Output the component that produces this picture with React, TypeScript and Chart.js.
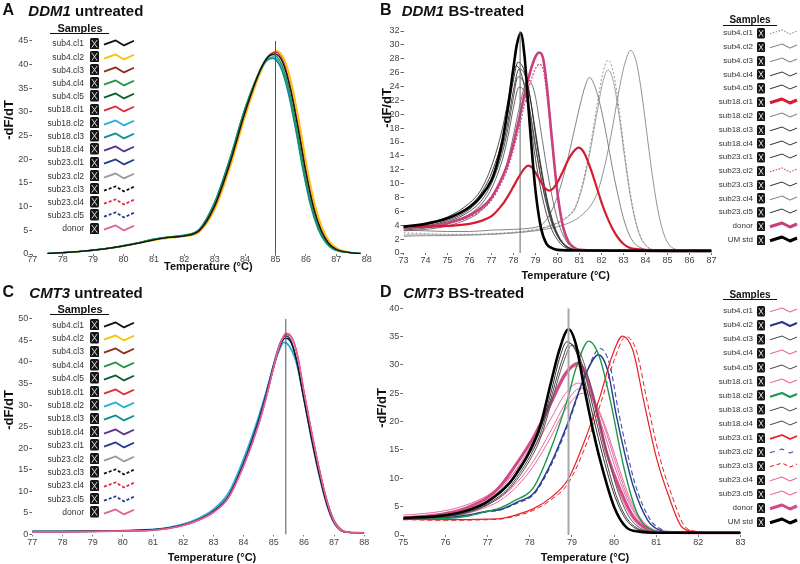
import React, { useEffect, useRef } from "react";
import { Chart, registerables } from "chart.js";

Chart.register(...registerables);

type Pt = [number, number];

// ================= DATA =================
// ---- Panel A: DDM1 untreated ----
const aTempRange = [77, 88];
const aValueRange = [0, 45];
const aValueStep = 5;
const aMarkerTemp = 85.0;
const aSub4cl1: Pt[] = [[77.5,0.1],[78,0.3],[78.5,0.5],[79,0.8],[79.5,1.2],[80,1.7],[80.5,2.3],[81,3.0],[81.5,3.5],[82,3.8],[82.5,5.0],[83,10.2],[83.5,19.2],[84,30.0],[84.5,38.8],[84.75,41.5],[84.97,42.2],[85.25,40.2],[85.5,34.5],[85.75,26.3],[86,17.2],[86.25,9.8],[86.5,5.0],[86.75,2.2],[87,1.0],[87.5,0.25],[87.8,0.1]];
const aSub4cl2: Pt[] = [[77.5,0.1],[78,0.3],[78.5,0.5],[79,0.8],[79.5,1.2],[80,1.7],[80.5,2.3],[81,2.9],[81.5,3.4],[82,3.7],[82.5,4.7],[83,9.4],[83.5,18.2],[84,29.0],[84.5,38.2],[84.75,41.4],[85.05,42.8],[85.3,40.9],[85.55,35.3],[85.8,27.0],[86.05,17.8],[86.3,10.3],[86.55,5.3],[86.8,2.4],[87.05,1.1],[87.5,0.3],[87.8,0.1]];
const aSub4cl4: Pt[] = [[77.5,0.1],[78,0.3],[78.5,0.5],[79,0.8],[79.5,1.2],[80,1.7],[80.5,2.4],[81,3.1],[81.5,3.6],[82,3.9],[82.5,5.2],[83,10.7],[83.5,19.8],[84,30.6],[84.5,39.0],[84.75,41.6],[84.93,42.0],[85.2,40.0],[85.45,34.6],[85.7,26.5],[85.95,17.4],[86.2,10.0],[86.45,5.1],[86.7,2.3],[86.95,1.0],[87.5,0.25],[87.8,0.1]];
const aSub18cl3: Pt[] = [[77.5,0.1],[78,0.3],[78.5,0.5],[79,0.8],[79.5,1.2],[80,1.7],[80.5,2.4],[81,3.1],[81.5,3.6],[82,3.9],[82.5,5.2],[83,10.9],[83.5,20.1],[84,30.8],[84.5,38.8],[84.7,40.7],[84.9,41.3],[85.15,39.6],[85.4,34.5],[85.65,26.7],[85.9,17.8],[86.15,10.3],[86.4,5.3],[86.65,2.4],[86.9,1.0],[87.5,0.25],[87.8,0.1]];
const aSub18cl1: Pt[] = [[77.5,0.1],[78,0.3],[78.5,0.5],[79,0.8],[79.5,1.2],[80,1.7],[80.5,2.3],[81,3.0],[81.5,3.5],[82,3.8],[82.5,4.9],[83,10.0],[83.5,19.0],[84,29.8],[84.5,38.7],[84.75,41.7],[85,42.6],[85.25,40.7],[85.5,35.0],[85.75,26.8],[86,17.6],[86.25,10.1],[86.5,5.1],[86.75,2.3],[87,1.0],[87.5,0.25],[87.8,0.1]];
const aSub18cl2: Pt[] = [[77.5,0.1],[78,0.3],[78.5,0.5],[79,0.8],[79.5,1.2],[80,1.8],[80.5,2.4],[81,3.1],[81.5,3.6],[82,4.0],[82.5,5.3],[83,11.0],[83.5,20.2],[84,30.7],[84.5,38.6],[84.72,40.9],[84.92,41.6],[85.15,40.0],[85.4,35.0],[85.65,27.2],[85.9,18.2],[86.15,10.6],[86.4,5.5],[86.65,2.5],[86.9,1.1],[87.5,0.25],[87.8,0.1]];

// ---- Panel B: DDM1 BS-treated ----
const bTempRange = [73, 87];
const bValueRange = [0, 32];
const bValueStep = 2;
const bMarkerTemp = 78.3;
const bUmStd: Pt[] = [[73,3.8],[74,4.2],[75,5.0],[76,6.6],[76.5,8.1],[77,10.5],[77.25,12.8],[77.5,16.2],[77.75,21.0],[78,26.8],[78.15,30.0],[78.33,31.7],[78.5,28.4],[78.75,18.0],[79,9.0],[79.25,3.6],[79.5,1.3],[79.75,0.7],[80,0.45],[81,0.35],[87,0.3]];
const bSub18cl1: Pt[] = [[73,3.8],[74,3.8],[75,3.9],[76,4.2],[76.5,4.6],[77,5.3],[77.5,7.0],[77.75,8.2],[78,9.6],[78.25,11.0],[78.5,12.2],[78.67,12.6],[78.85,12.3],[79,11.6],[79.25,10.2],[79.45,9.3],[79.63,9.0],[79.8,9.3],[80,10.2],[80.25,11.8],[80.5,13.5],[80.75,14.7],[80.95,15.2],[81.2,14.5],[81.5,12.2],[81.75,9.8],[82,7.3],[82.25,5.2],[82.5,3.5],[82.75,2.2],[83,1.3],[83.25,0.8],[83.5,0.6],[84,0.45],[85,0.4],[87,0.4]];
const bDonor: Pt[] = [[73,3.7],[74,3.8],[75,4.3],[76,5.4],[76.5,6.4],[77,8.0],[77.5,11.0],[77.75,13.0],[78,15.8],[78.25,19.2],[78.5,22.8],[78.75,26.0],[79,28.3],[79.17,28.9],[79.35,28.0],[79.5,24.5],[79.75,16.3],[80,8.6],[80.25,3.8],[80.5,1.6],[80.75,0.8],[81,0.45],[82,0.35],[87,0.3]];
const bSub23cl2: Pt[] = [[73,3.6],[74,3.7],[75,4.2],[76,5.2],[76.5,6.1],[77,7.6],[77.5,10.4],[77.75,12.3],[78,14.9],[78.25,18.0],[78.5,21.4],[78.75,24.4],[79,26.6],[79.17,27.2],[79.35,26.4],[79.5,23.3],[79.75,16.0],[80,8.8],[80.25,4.0],[80.5,1.7],[80.75,0.8],[81,0.45],[82,0.35],[87,0.3]];
const bSub4cl4: Pt[] = [[73,3.7],[74,4.1],[75,5.0],[76,6.8],[76.5,8.5],[77,11.5],[77.5,16.5],[77.75,20.5],[78,25.0],[78.2,27.5],[78.5,26.2],[78.75,22.5],[79,17.0],[79.25,12.0],[79.5,7.8],[79.75,4.6],[80,2.6],[80.25,1.4],[80.5,0.8],[80.75,0.5],[81,0.4],[87,0.3]];
const bSub4cl5: Pt[] = [[73,3.6],[74,3.9],[75,4.7],[76,6.3],[76.5,7.9],[77,10.6],[77.5,15.2],[77.75,19.0],[78,23.5],[78.25,26.5],[78.5,25.8],[78.75,22.5],[79,17.5],[79.25,12.5],[79.5,8.2],[79.75,5.0],[80,2.8],[80.25,1.5],[80.5,0.8],[80.75,0.5],[81,0.4],[87,0.3]];
const bSub18cl3: Pt[] = [[73,3.5],[74,3.8],[75,4.5],[76,6.0],[76.5,7.4],[77,10.0],[77.5,14.5],[77.75,18.0],[78,22.5],[78.2,25.4],[78.5,24.3],[78.75,20.5],[79,15.5],[79.25,10.8],[79.5,7.0],[79.75,4.2],[80,2.4],[80.25,1.3],[80.5,0.7],[81,0.4],[87,0.3]];
const bSub18cl4: Pt[] = [[73,3.3],[74,3.6],[75,4.2],[76,5.6],[76.5,6.9],[77,9.3],[77.5,13.5],[77.75,16.8],[78,21.0],[78.25,23.9],[78.5,23.2],[78.75,19.8],[79,15.2],[79.25,10.8],[79.5,7.2],[79.75,4.4],[80,2.5],[80.25,1.3],[80.5,0.7],[81,0.4],[87,0.3]];
const bSub23cl1: Pt[] = [[73,3.2],[74,3.4],[75,3.9],[76,5.0],[76.5,6.0],[77,7.8],[77.5,11.0],[77.75,13.5],[78,17.0],[78.25,20.8],[78.5,24.0],[78.65,25.0],[78.85,24.2],[79,22.5],[79.25,17.5],[79.5,12.5],[79.75,8.2],[80,4.8],[80.25,2.6],[80.5,1.3],[80.75,0.7],[81,0.5],[87,0.3]];
const bSub23cl3: Pt[] = [[73,3.8],[74,4.2],[75,5.2],[76,7.2],[76.5,9.0],[77,12.5],[77.5,18.0],[77.75,22.0],[78,26.0],[78.12,27.0],[78.3,26.3],[78.5,24.0],[78.75,19.0],[79,13.5],[79.25,9.0],[79.5,5.6],[79.75,3.3],[80,1.9],[80.25,1.0],[80.5,0.6],[81,0.4],[87,0.3]];
const bSub4cl2: Pt[] = [[73,3.3],[74,3.2],[75,3.1],[76,3.1],[77,3.3],[78,3.4],[78.5,3.5],[79,3.7],[79.25,4.0],[79.5,4.8],[79.75,6.2],[80,8.2],[80.25,10.8],[80.5,14.0],[80.75,17.5],[81,21.0],[81.25,24.0],[81.45,25.3],[81.7,24.0],[82,20.5],[82.25,16.5],[82.5,12.2],[82.75,8.3],[83,5.0],[83.25,2.7],[83.5,1.4],[83.75,0.8],[84,0.5],[84.5,0.35],[85,0.3],[87,0.3]];
const bSub4cl1: Pt[] = [[73,2.9],[74,2.8],[75,2.7],[76,2.7],[77,2.8],[78,3.0],[79,3.4],[79.5,3.8],[80,4.4],[80.5,5.4],[80.8,6.6],[81.05,8.9],[81.3,12.3],[81.55,16.5],[81.8,21.3],[82.05,25.8],[82.3,27.8],[82.55,25.9],[82.8,20.8],[83.05,14.5],[83.3,8.8],[83.55,4.7],[83.8,2.2],[84.05,1.0],[84.3,0.5],[85,0.3],[87,0.3]];
const bSub4cl3: Pt[] = [[73,2.6],[74,2.6],[75,2.6],[76,2.6],[77,2.7],[78,2.9],[79,3.3],[79.5,3.7],[80,4.3],[80.5,5.3],[80.8,6.4],[81.05,8.6],[81.3,11.8],[81.55,15.8],[81.8,20.3],[82.05,24.5],[82.3,26.4],[82.55,24.6],[82.8,19.8],[83.05,13.8],[83.3,8.4],[83.55,4.5],[83.8,2.1],[84.05,1.0],[84.3,0.5],[85,0.3],[87,0.3]];
const bSub23cl4: Pt[] = [[73,2.4],[74,2.5],[75,2.5],[76,2.6],[77,2.7],[78,2.9],[79,3.2],[80,3.8],[80.5,4.3],[81,5.2],[81.5,6.8],[81.8,8.6],[82.05,11.3],[82.3,14.8],[82.55,19.0],[82.8,23.5],[83.05,27.2],[83.33,29.2],[83.6,27.3],[83.85,22.5],[84.1,16.3],[84.35,10.3],[84.6,5.6],[84.85,2.6],[85.1,1.1],[85.4,0.5],[86,0.3],[87,0.3]];

// ---- Panel C: CMT3 untreated ----
const cTempRange = [77, 88];
const cValueRange = [0, 50];
const cValueStep = 5;
const cMarkerTemp = 85.4;
const cSub4cl1: Pt[] = [[77,0.7],[78,0.7],[79,0.75],[80,0.85],[81,1.1],[81.5,1.5],[82,2.2],[82.5,3.4],[83,5.3],[83.5,8.8],[84,16.3],[84.5,26.0],[84.75,32.0],[85,38.8],[85.2,43.5],[85.38,45.5],[85.55,44.8],[85.75,40.5],[86,31.5],[86.25,22.5],[86.5,14.3],[86.75,7.4],[87,2.8],[87.25,0.9],[87.5,0.5],[88,0.4]];
const cSub18cl2: Pt[] = [[77,0.7],[78,0.7],[79,0.75],[80,0.9],[81,1.2],[81.5,1.6],[82,2.4],[82.5,3.7],[83,5.8],[83.5,9.6],[84,17.5],[84.5,27.3],[84.75,33.0],[85,39.2],[85.2,43.0],[85.33,44.5],[85.5,43.8],[85.75,39.8],[86,31.5],[86.25,23.0],[86.5,15.0],[86.75,8.0],[87,3.2],[87.25,1.0],[87.5,0.5],[88,0.4]];
const cSub23cl1: Pt[] = [[77,0.7],[78,0.7],[79,0.75],[80,0.85],[81,1.1],[81.5,1.5],[82,2.2],[82.5,3.4],[83,5.4],[83.5,8.9],[84,16.6],[84.5,26.6],[84.75,32.8],[85,39.6],[85.2,44.2],[85.38,46.0],[85.55,45.2],[85.75,40.6],[86,31.2],[86.25,22.0],[86.5,13.8],[86.75,7.0],[87,2.6],[87.25,0.8],[87.5,0.5],[88,0.4]];
const cSub18cl1: Pt[] = [[77,0.6],[78,0.6],[79,0.7],[80,0.8],[81,1.0],[81.5,1.4],[82,2.1],[82.5,3.3],[83,5.2],[83.5,8.6],[84,16.0],[84.5,25.6],[84.75,31.8],[85,38.8],[85.2,43.8],[85.42,46.3],[85.6,45.6],[85.8,41.2],[86,33.2],[86.25,24.0],[86.5,15.5],[86.75,8.2],[87,3.1],[87.25,1.0],[87.5,0.5],[88,0.4]];
const cDonor: Pt[] = [[77,0.6],[78,0.6],[79,0.7],[80,0.8],[81,1.0],[81.5,1.4],[82,2.1],[82.5,3.3],[83,5.1],[83.5,8.5],[84,15.8],[84.5,25.5],[84.75,31.7],[85,38.9],[85.2,44.0],[85.4,46.6],[85.58,45.9],[85.78,41.5],[86,33.0],[86.25,23.8],[86.5,15.3],[86.75,8.0],[87,3.0],[87.25,0.9],[87.5,0.5],[88,0.4]];

// ---- Panel D: CMT3 BS-treated ----
const dTempRange = [75, 83];
const dValueRange = [0, 40];
const dValueStep = 5;
const dMarkerTemp = 78.92;
const dUmStd: Pt[] = [[75,3.0],[76,3.5],[76.5,4.3],[77,5.9],[77.5,9.0],[77.75,11.6],[78,14.8],[78.25,19.3],[78.5,26.8],[78.7,32.6],[78.92,36.3],[79.1,33.5],[79.27,26.8],[79.5,18.5],[79.67,13.2],[80,5.0],[80.3,1.3],[80.6,0.6],[81,0.4],[83,0.4]];
const dSub4cl3: Pt[] = [[75,2.9],[76,3.4],[76.5,4.2],[77,5.8],[77.5,8.8],[77.75,11.4],[78,14.5],[78.25,18.6],[78.5,25.0],[78.7,31.0],[78.88,34.1],[79.1,32.3],[79.3,27.3],[79.5,21.0],[79.75,13.5],[80,7.2],[80.25,3.1],[80.5,1.2],[80.75,0.6],[81,0.4],[83,0.4]];
const dSub4cl5: Pt[] = [[75,2.8],[76,3.3],[76.5,4.0],[77,5.5],[77.5,8.3],[77.75,10.8],[78,13.8],[78.25,17.8],[78.5,24.0],[78.75,30.5],[78.95,33.8],[79.15,32.0],[79.35,27.2],[79.55,21.0],[79.8,13.5],[80.05,7.0],[80.3,3.0],[80.55,1.2],[80.8,0.6],[81.1,0.4],[83,0.4]];
const dSub18cl3: Pt[] = [[75,2.7],[76,3.2],[76.5,3.9],[77,5.3],[77.5,8.0],[77.75,10.3],[78,13.2],[78.25,17.0],[78.5,23.0],[78.8,30.5],[79.0,33.5],[79.2,32.0],[79.4,27.5],[79.6,21.5],[79.85,14.0],[80.1,7.5],[80.35,3.3],[80.6,1.3],[80.85,0.6],[81.2,0.4],[83,0.4]];
const dSub18cl2: Pt[] = [[75,2.8],[76,2.9],[76.5,3.3],[77,4.2],[77.3,4.8],[77.6,5.9],[78.1,8.5],[78.49,15.0],[78.89,23.8],[79.1,29.5],[79.4,34.2],[79.65,31.5],[79.91,23.8],[80.23,12.0],[80.55,3.8],[80.9,0.9],[81.2,0.5],[83,0.4]];
const dSub4cl2: Pt[] = [[75,2.8],[76,3.0],[76.5,3.5],[77,4.2],[77.3,4.5],[77.7,5.8],[78.1,7.4],[78.5,12.6],[78.9,19.7],[79.3,27.9],[79.63,31.8],[79.85,29.0],[80.06,20.9],[80.25,14.5],[80.46,8.5],[80.8,2.6],[81.1,0.8],[81.4,0.5],[83,0.4]];
const dSub23cl2: Pt[] = [[75,2.8],[76,3.0],[76.5,3.4],[77,4.1],[77.3,4.4],[77.7,5.6],[78.1,7.2],[78.5,12.2],[78.9,19.3],[79.3,27.8],[79.67,32.9],[79.9,30.0],[80.1,22.0],[80.3,15.0],[80.5,9.0],[80.85,2.8],[81.15,0.9],[81.45,0.5],[83,0.4]];
const dSub23cl1: Pt[] = [[75,2.8],[76,2.7],[77,2.8],[77.3,2.9],[77.7,3.6],[78.1,4.7],[78.5,6.6],[78.9,9.7],[79.27,16.0],[79.67,24.5],[79.95,31.5],[80.2,35.1],[80.45,32.5],[80.7,23.8],[81.0,13.8],[81.3,6.8],[81.6,1.5],[81.9,0.6],[82.2,0.4],[83,0.4]];
const dSub23cl3: Pt[] = [[75,2.7],[76,2.6],[77,2.7],[77.3,2.8],[77.7,3.4],[78.1,4.4],[78.5,6.2],[78.9,9.0],[79.3,15.2],[79.7,23.6],[80.0,30.8],[80.28,35.0],[80.53,32.5],[80.78,23.8],[81.08,13.8],[81.38,6.8],[81.68,1.5],[81.98,0.6],[82.3,0.4],[83,0.4]];
const dDonor: Pt[] = [[75,3.0],[75.5,3.3],[76,3.8],[76.5,4.8],[77,6.6],[77.3,8.6],[77.69,12.6],[78.1,17.4],[78.49,23.2],[78.85,28.5],[79.15,30.3],[79.3,29.0],[79.5,24.5],[79.83,14.4],[80.15,7.9],[80.46,3.2],[80.8,1.0],[81.1,0.5],[83,0.4]];
const dSub4cl1: Pt[] = [[75,3.0],[76,3.5],[76.5,4.4],[77,6.2],[77.3,8.0],[77.7,11.8],[78.1,16.8],[78.5,22.8],[78.85,28.0],[79.1,29.8],[79.3,28.4],[79.5,24.0],[79.8,15.0],[80.1,8.0],[80.4,3.3],[80.7,1.1],[81,0.5],[83,0.4]];
const dSub4cl4: Pt[] = [[75,3.5],[75.5,3.8],[76,4.3],[76.5,5.3],[77,7.0],[77.3,8.6],[77.7,11.6],[78.1,15.5],[78.5,20.5],[78.85,25.0],[79.15,26.8],[79.4,25.2],[79.7,19.5],[80,12.5],[80.3,6.5],[80.6,2.6],[80.9,0.9],[81.2,0.5],[83,0.4]];
const dSub18cl1: Pt[] = [[75,2.9],[76,3.3],[76.5,4.0],[77,5.4],[77.3,6.6],[77.7,9.3],[78.1,13.2],[78.5,18.4],[78.85,23.2],[79.2,25.9],[79.45,24.8],[79.75,19.5],[80.05,12.5],[80.35,6.2],[80.65,2.4],[80.95,0.8],[81.3,0.5],[83,0.4]];
const dSub23cl4: Pt[] = [[75,2.9],[76,3.2],[76.5,3.8],[77,5.0],[77.3,6.1],[77.7,8.6],[78.1,12.3],[78.5,17.3],[78.85,22.2],[79.25,25.0],[79.5,24.0],[79.8,19.0],[80.1,12.2],[80.4,6.0],[80.7,2.3],[81,0.8],[81.3,0.5],[83,0.4]];

// ---- Legend labels ----
const untreatedSamples = ["sub4.cl1","sub4.cl2","sub4.cl3","sub4.cl4","sub4.cl5","sub18.cl1","sub18.cl2","sub18.cl3","sub18.cl4","sub23.cl1","sub23.cl2","sub23.cl3","sub23.cl4","sub23.cl5","donor"];
const treatedSamples = [...untreatedSamples, "UM std"];

// ================= STYLES =================
const FONT = '"Liberation Sans", Arial, Helvetica, sans-serif';
type Style = { color: string; width: number; dash?: number[] };

const untreatedStyles: Style[] = [
  { color: "#111111", width: 1.8 },
  { color: "#f5c400", width: 1.8 },
  { color: "#8a2d1c", width: 1.8 },
  { color: "#1e9646", width: 1.8 },
  { color: "#0d5c2e", width: 1.8 },
  { color: "#e2283c", width: 1.8 },
  { color: "#1fb0dc", width: 1.8 },
  { color: "#108c8c", width: 1.8 },
  { color: "#5c2f8c", width: 1.8 },
  { color: "#243a8c", width: 1.8 },
  { color: "#9a9a9a", width: 1.8 },
  { color: "#111111", width: 1.8, dash: [3, 2] },
  { color: "#e2283c", width: 1.8, dash: [3, 2] },
  { color: "#243a8c", width: 1.8, dash: [3, 2] },
  { color: "#e0619b", width: 1.8 },
];
const bStyles: Style[] = [
  { color: "#999999", width: 1.2, dash: [1.5, 1.5] },
  { color: "#8c8c8c", width: 1.2 },
  { color: "#8c8c8c", width: 1.2 },
  { color: "#333333", width: 1 },
  { color: "#333333", width: 1 },
  { color: "#d81b30", width: 3 },
  { color: "#8c8c8c", width: 1.2 },
  { color: "#333333", width: 1 },
  { color: "#333333", width: 1 },
  { color: "#333333", width: 1 },
  { color: "#d2468a", width: 1.2, dash: [1.5, 1.5] },
  { color: "#333333", width: 1 },
  { color: "#8c8c8c", width: 1.2 },
  { color: "#333333", width: 1 },
  { color: "#c8407c", width: 3 },
  { color: "#000000", width: 3 },
];
const PINK = "#e86aa0";
const dStyles: Style[] = [
  { color: PINK, width: 1.1 },
  { color: "#27398f", width: 2 },
  { color: "#444444", width: 1 },
  { color: PINK, width: 1.1 },
  { color: "#444444", width: 1 },
  { color: PINK, width: 1.1 },
  { color: "#1a9a48", width: 2 },
  { color: "#444444", width: 1 },
  { color: "#444444", width: 1 },
  { color: "#e8202c", width: 1.8 },
  { color: "#3d51a0", width: 1.1, dash: [5, 5] },
  { color: "#e8202c", width: 1.1, dash: [4, 3] },
  { color: PINK, width: 1.1 },
  { color: PINK, width: 1.1 },
  { color: "#d24a88", width: 3 },
  { color: "#000000", width: 3 },
];

type Series = { pts: Pt[]; color: string; width: number; dash?: number[] };

// drawn top-first (Chart.js draws dataset 0 on top)
const aSeries: Series[] = [
  { pts: aSub4cl1, color: "#111111", width: 1.3 },
  { pts: aSub4cl4, color: "#1e9646", width: 1.4 },
  { pts: aSub18cl3, color: "#108c8c", width: 1.4 },
  { pts: aSub18cl1, color: "#e2283c", width: 1.4 },
  { pts: aSub18cl2, color: "#1fb0dc", width: 1.4 },
  { pts: aSub4cl2, color: "#f5c400", width: 1.8 },
];
const bSeries: Series[] = [
  { pts: bUmStd, color: "#000000", width: 2.6 },
  { pts: bSub18cl1, color: "#d81b30", width: 2.2 },
  { pts: bDonor, color: "#c8407c", width: 2.6 },
  { pts: bSub23cl2, color: "#d2468a", width: 1.2, dash: [2, 1.5] },
  { pts: bSub4cl4, color: "#222222", width: 0.9 },
  { pts: bSub4cl5, color: "#333333", width: 0.9 },
  { pts: bSub18cl3, color: "#444444", width: 0.9 },
  { pts: bSub18cl4, color: "#555555", width: 0.9 },
  { pts: bSub23cl1, color: "#666666", width: 0.9 },
  { pts: bSub23cl3, color: "#3a3a3a", width: 0.9 },
  { pts: bSub4cl2, color: "#777777", width: 0.9 },
  { pts: bSub4cl1, color: "#888888", width: 0.9, dash: [2, 2] },
  { pts: bSub4cl3, color: "#999999", width: 0.9 },
  { pts: bSub23cl4, color: "#888888", width: 0.9 },
];
const cSeries: Series[] = [
  { pts: cDonor, color: "#e0619b", width: 1.6 },
  { pts: cSub18cl1, color: "#e2283c", width: 1.4 },
  { pts: cSub4cl1, color: "#111111", width: 1.3 },
  { pts: cSub23cl1, color: "#243a8c", width: 1.4 },
  { pts: cSub18cl2, color: "#1fb0dc", width: 1.8 },
];
const dSeries: Series[] = [
  { pts: dUmStd, color: "#000000", width: 2.6 },
  { pts: dSub4cl3, color: "#333333", width: 1 },
  { pts: dSub4cl5, color: "#444444", width: 1 },
  { pts: dSub18cl3, color: "#555555", width: 1 },
  { pts: dSub18cl2, color: "#1a9a48", width: 1.4 },
  { pts: dSub4cl2, color: "#27398f", width: 1.4 },
  { pts: dSub23cl2, color: "#3d51a0", width: 1.1, dash: [5, 3] },
  { pts: dSub23cl1, color: "#e8202c", width: 1.2 },
  { pts: dSub23cl3, color: "#e8202c", width: 1.0, dash: [5, 3] },
  { pts: dDonor, color: "#d24a88", width: 3 },
  { pts: dSub4cl1, color: PINK, width: 1 },
  { pts: dSub4cl4, color: PINK, width: 1 },
  { pts: dSub18cl1, color: PINK, width: 1 },
  { pts: dSub23cl4, color: PINK, width: 1 },
];

// ================= LAYOUT =================
const W = 800, H = 564;
const Y_W = 28, X_H = 16;
type Panel = {
  left: number; right: number; top: number; bottom: number; xPad: number;
  temp: number[]; val: number[]; step: number; marker: number;
  markerColor: string; markerWidth: number; series: Series[];
};
const panels: Panel[] = [
  { left: 32.3, right: 366.7, top: 40.7, bottom: 254, xPad: -1.5, temp: aTempRange, val: aValueRange, step: aValueStep, marker: aMarkerTemp, markerColor: "#555", markerWidth: 1, series: aSeries },
  { left: 403.5, right: 711.5, top: 31, bottom: 253, xPad: 0, temp: bTempRange, val: bValueRange, step: bValueStep, marker: bMarkerTemp, markerColor: "#666", markerWidth: 1, series: bSeries },
  { left: 32.3, right: 364.3, top: 318.7, bottom: 534.5, xPad: 0.5, temp: cTempRange, val: cValueRange, step: cValueStep, marker: cMarkerTemp, markerColor: "#555", markerWidth: 1, series: cSeries },
  { left: 403.3, right: 740.5, top: 308.3, bottom: 535, xPad: 0, temp: dTempRange, val: dValueRange, step: dValueStep, marker: dMarkerTemp, markerColor: "#a8a8a8", markerWidth: 2, series: dSeries },
];

function makeConfig(p: Panel): any {
  const datasets: any[] = p.series.map((s) => ({
    data: s.pts.map(([x, y]) => ({ x, y })),
    borderColor: s.color,
    borderWidth: s.width,
    borderDash: s.dash || [],
    pointRadius: 0,
    fill: false,
    tension: 0.4,
    cubicInterpolationMode: "monotone",
  }));
  datasets.unshift({
    data: [{ x: p.marker, y: p.val[0] }, { x: p.marker, y: p.val[1] }],
    borderColor: p.markerColor,
    borderWidth: p.markerWidth,
    pointRadius: 0,
    fill: false,
    tension: 0,
  });
  const tickFont = { family: FONT, size: 9 };
  return {
    type: "line",
    data: { datasets },
    options: {
      responsive: false,
      animation: false,
      devicePixelRatio: 1,
      events: [],
      layout: { padding: { left: p.left - Y_W, right: W - p.right, top: p.top, bottom: H - p.bottom - X_H } },
      plugins: { legend: { display: false }, tooltip: { enabled: false }, title: { display: false } },
      scales: {
        x: {
          type: "linear", min: p.temp[0], max: p.temp[1],
          ticks: { stepSize: 1, autoSkip: false, maxRotation: 0, font: tickFont, color: "#444", padding: p.xPad },
          grid: { display: true, drawOnChartArea: false, drawTicks: true, tickLength: 2, tickColor: "#777" },
          border: { display: false },
          afterFit: (s: any) => { s.height = X_H; },
        },
        y: {
          type: "linear", min: p.val[0], max: p.val[1],
          ticks: { stepSize: p.step, autoSkip: false, font: tickFont, color: "#444", padding: 1 },
          grid: { display: true, drawOnChartArea: false, drawTicks: true, tickLength: 3, tickColor: "#666" },
          border: { display: false },
          afterFit: (s: any) => { s.width = Y_W; },
        },
      },
    },
  };
}

function ChartLayer({ panel }: { panel: Panel }) {
  const ref = useRef<HTMLCanvasElement>(null);
  useEffect(() => {
    const chart = new Chart(ref.current as HTMLCanvasElement, makeConfig(panel));
    return () => chart.destroy();
  }, []);
  return <canvas ref={ref} width={W} height={H} style={{ position: "absolute", left: 0, top: 0, width: W, height: H }} />;
}

function Txt(props: { x: number; y: number; size: number; bold?: boolean; align?: "left" | "center" | "right"; rotate?: boolean; color?: string; children: any }) {
  const { x, y, size, bold, align = "left", rotate, color = "#111", children } = props;
  const tx = align === "left" ? "0" : align === "center" ? "-50%" : "-100%";
  return (
    <div style={{
      position: "absolute", left: x, top: y, whiteSpace: "nowrap", lineHeight: 1,
      fontFamily: FONT, fontSize: size, fontWeight: bold ? 700 : 400, color,
      transform: rotate ? "translate(-50%, -50%) rotate(-90deg)" : `translate(${tx}, -50%)`,
    }}>{children}</div>
  );
}

type LegendSpec = {
  headerX: number; headerY: number; headerSize: number; ulLeft: number; ulRight: number; ulY: number;
  rowY0: number; rowStep: number; labelRight: number; labelSize: number;
  boxX: number; boxW: number; boxH: number; lineX: number; lineW: number; zig: number[][];
};

function Legend({ spec, labels, styles }: { spec: LegendSpec; labels: string[]; styles: Style[] }) {
  const zigPts = spec.zig.map(([a, b]) => `${a},${b}`).join(" ");
  return (
    <>
      <Txt x={spec.headerX} y={spec.headerY} size={spec.headerSize} bold align="center">Samples</Txt>
      <div style={{ position: "absolute", left: spec.ulLeft, top: spec.ulY, width: spec.ulRight - spec.ulLeft, height: 1.4, background: "#111" }} />
      {labels.map((lab, i) => {
        const y = spec.rowY0 + i * spec.rowStep;
        const st = styles[i];
        return (
          <React.Fragment key={lab}>
            <Txt x={spec.labelRight} y={y} size={spec.labelSize} align="right" color="#333">{lab}</Txt>
            <svg width={spec.boxW} height={spec.boxH} style={{ position: "absolute", left: spec.boxX, top: y - spec.boxH / 2 }}>
              <rect x={0} y={0} width={spec.boxW} height={spec.boxH} rx={1.6} fill="#151515" />
              <line x1={1.8} y1={2} x2={spec.boxW - 1.8} y2={spec.boxH - 2} stroke="#eee" strokeWidth={0.9} />
              <line x1={spec.boxW - 1.8} y1={2} x2={1.8} y2={spec.boxH - 2} stroke="#eee" strokeWidth={0.9} />
            </svg>
            <svg width={spec.lineW} height={10} style={{ position: "absolute", left: spec.lineX, top: y - 5, overflow: "visible" }}>
              <polyline points={zigPts} fill="none" stroke={st.color} strokeWidth={st.width}
                strokeDasharray={st.dash ? st.dash.join(",") : undefined} strokeLinejoin="round" />
            </svg>
          </React.Fragment>
        );
      })}
    </>
  );
}

const zigWide = [[0, 6.7], [11.7, 2.4], [20, 7.4], [30, 2.7]];
const zigNarrow = [[0, 5.8], [12, 2], [20, 6], [27, 3]];
const legA: LegendSpec = { headerX: 80, headerY: 27.5, headerSize: 11, ulLeft: 50, ulRight: 109, ulY: 32.5, rowY0: 43.3, rowStep: 13.22, labelRight: 84, labelSize: 8.5, boxX: 90, boxW: 9, boxH: 11.5, lineX: 103.5, lineW: 30, zig: zigWide };
const legC: LegendSpec = { ...legA, headerY: 308.7, ulY: 313.8, rowY0: 324.7, rowStep: 13.38 };
const legB: LegendSpec = { headerX: 750, headerY: 20, headerSize: 10, ulLeft: 722.7, ulRight: 776.7, ulY: 24.7, rowY0: 33.3, rowStep: 13.78, labelRight: 753, labelSize: 8, boxX: 757.3, boxW: 8, boxH: 10.5, lineX: 770, lineW: 27, zig: zigNarrow };
const legD: LegendSpec = { ...legB, headerY: 294.7, ulY: 299, rowY0: 311.3, rowStep: 14.05 };

function Title({ x, letterX, y, gene, rest, letter }: { x: number; letterX: number; y: number; gene: string; rest: string; letter: string }) {
  return (
    <>
      <Txt x={letterX} y={y} size={16} bold>{letter}</Txt>
      <Txt x={x} y={y} size={15} bold><span style={{ fontStyle: "italic" }}>{gene}</span> {rest}</Txt>
    </>
  );
}

export default function App() {
  return (
    <div style={{ position: "fixed", left: 0, top: 0, width: W, height: H, background: "#fff", overflow: "hidden" }}>
      {panels.map((p, i) => <ChartLayer key={i} panel={p} />)}
      <Title letter="A" letterX={2.5} x={28.3} y={9.8} gene="DDM1" rest="untreated" />
      <Title letter="B" letterX={380} x={401.7} y={9.8} gene="DDM1" rest="BS-treated" />
      <Title letter="C" letterX={2.5} x={29.3} y={291.5} gene="CMT3" rest="untreated" />
      <Title letter="D" letterX={380} x={403.3} y={291.5} gene="CMT3" rest="BS-treated" />

      <Txt x={7.5} y={120} size={13} bold rotate>-dF/dT</Txt>
      <Txt x={385.7} y={108.3} size={13} bold rotate>-dF/dT</Txt>
      <Txt x={7.5} y={410} size={13} bold rotate>-dF/dT</Txt>
      <Txt x={380.5} y={407.5} size={13} bold rotate>-dF/dT</Txt>

      <Txt x={208.3} y={265.7} size={11} bold align="center">Temperature (°C)</Txt>
      <Txt x={565.7} y={275.3} size={11} bold align="center">Temperature (°C)</Txt>
      <Txt x={212} y={557.3} size={11} bold align="center">Temperature (°C)</Txt>
      <Txt x={585} y={557.3} size={11} bold align="center">Temperature (°C)</Txt>

      <Legend spec={legA} labels={untreatedSamples} styles={untreatedStyles} />
      <Legend spec={legB} labels={treatedSamples} styles={bStyles} />
      <Legend spec={legC} labels={untreatedSamples} styles={untreatedStyles} />
      <Legend spec={legD} labels={treatedSamples} styles={dStyles} />
    </div>
  );
}
